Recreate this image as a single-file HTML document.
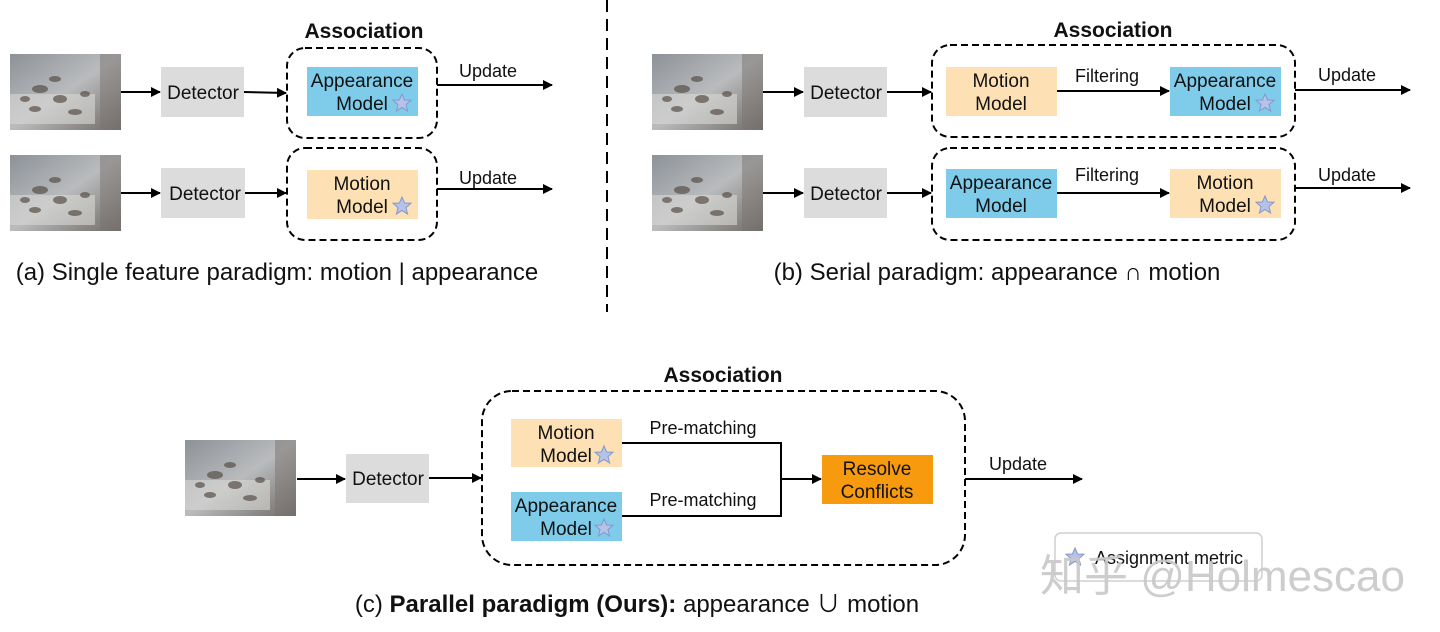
<!DOCTYPE html>
<html><head><meta charset="utf-8"><style>
html,body{margin:0;padding:0;background:#fff;width:1440px;height:632px;overflow:hidden}
text{font-family:"Liberation Sans","Noto Sans CJK SC",sans-serif;fill:#111}
</style></head><body>
<svg width="1440" height="632" viewBox="0 0 1440 632" xmlns="http://www.w3.org/2000/svg">
<defs>
<marker id="ah" markerWidth="10" markerHeight="10" refX="9" refY="5" orient="auto" markerUnits="userSpaceOnUse"><path d="M0,0 L10,5 L0,10 z" fill="#000"/></marker>
<linearGradient id="img" x1="0" y1="0" x2="1" y2="1"><stop offset="0" stop-color="#8d9298"/><stop offset="0.5" stop-color="#b9bbbd"/><stop offset="1" stop-color="#6f6a66"/></linearGradient>
<g id="star"><polygon points="0,-9 2.6,-3 9,-2.8 4,1.6 5.6,8 0,4.4 -5.6,8 -4,1.6 -9,-2.8 -2.6,-3" fill="#b6c3e8" stroke="#8497cf" stroke-width="1"/></g>
<g id="photo"><rect width="111" height="76" fill="url(#img)"/><rect x="0" y="40" width="85" height="30" fill="#d8d8d6" opacity="0.6"/><g fill="#5a5048" opacity="0.7"><ellipse cx="30" cy="35" rx="8" ry="4"/><ellipse cx="50" cy="45" rx="7" ry="4"/><ellipse cx="25" cy="55" rx="6" ry="3"/><ellipse cx="65" cy="58" rx="7" ry="3"/><ellipse cx="45" cy="25" rx="6" ry="3"/><ellipse cx="75" cy="40" rx="5" ry="3"/><ellipse cx="15" cy="45" rx="5" ry="3"/></g><rect x="90" y="0" width="21" height="76" fill="#7a7470" opacity="0.5"/></g>
</defs>
<g font-size="19" text-anchor="middle">
<!-- (a) -->
<text x="364" y="38" font-weight="bold" font-size="21">Association</text>
<use href="#photo" x="10" y="54"/><use href="#photo" x="10" y="155"/>
<line x1="121" y1="92" x2="160" y2="92" stroke="#000" stroke-width="2" marker-end="url(#ah)"/>
<line x1="121" y1="193" x2="160" y2="193" stroke="#000" stroke-width="2" marker-end="url(#ah)"/>
<rect x="161" y="67" width="83" height="50" fill="#dcdcdc"/><text x="203" y="99">Detector</text>
<rect x="161" y="168" width="84" height="50" fill="#dcdcdc"/><text x="205" y="200">Detector</text>
<line x1="244" y1="92" x2="286" y2="93" stroke="#000" stroke-width="2" marker-end="url(#ah)"/>
<line x1="245" y1="193" x2="286" y2="193" stroke="#000" stroke-width="2" marker-end="url(#ah)"/>
<rect x="287" y="48" width="150" height="90" rx="18" fill="none" stroke="#000" stroke-width="2" stroke-dasharray="7,4"/>
<rect x="287" y="148" width="150" height="92" rx="18" fill="none" stroke="#000" stroke-width="2" stroke-dasharray="7,4"/>
<rect x="307" y="67" width="111" height="49" fill="#7ecbea"/><text x="362" y="87">Appearance</text><text x="362" y="110">Model</text><use href="#star" x="402" y="103"/>
<rect x="307" y="170" width="111" height="49" fill="#fde0b4"/><text x="362" y="190">Motion</text><text x="362" y="213">Model</text><use href="#star" x="402" y="206"/>
<line x1="437" y1="85" x2="552" y2="85" stroke="#000" stroke-width="2" marker-end="url(#ah)"/><text x="488" y="77" font-size="18">Update</text>
<line x1="437" y1="189" x2="552" y2="189" stroke="#000" stroke-width="2" marker-end="url(#ah)"/><text x="488" y="184" font-size="18">Update</text>
<text x="277" y="280" font-size="24">(a) Single feature paradigm: motion | appearance</text>
<line x1="607" y1="0" x2="607" y2="312" stroke="#000" stroke-width="2" stroke-dasharray="12,7"/>
<!-- (b) -->
<text x="1113" y="37" font-weight="bold" font-size="21">Association</text>
<use href="#photo" x="652" y="54"/><use href="#photo" x="652" y="155"/>
<line x1="763" y1="92" x2="803" y2="92" stroke="#000" stroke-width="2" marker-end="url(#ah)"/>
<line x1="763" y1="193" x2="803" y2="193" stroke="#000" stroke-width="2" marker-end="url(#ah)"/>
<rect x="804" y="67" width="83" height="50" fill="#dcdcdc"/><text x="846" y="99">Detector</text>
<rect x="804" y="168" width="83" height="50" fill="#dcdcdc"/><text x="846" y="200">Detector</text>
<line x1="887" y1="92" x2="931" y2="92" stroke="#000" stroke-width="2" marker-end="url(#ah)"/>
<line x1="887" y1="193" x2="931" y2="193" stroke="#000" stroke-width="2" marker-end="url(#ah)"/>
<rect x="932" y="45" width="363" height="92" rx="18" fill="none" stroke="#000" stroke-width="2" stroke-dasharray="7,4"/>
<rect x="932" y="148" width="363" height="92" rx="18" fill="none" stroke="#000" stroke-width="2" stroke-dasharray="7,4"/>
<rect x="946" y="67" width="111" height="49" fill="#fde0b4"/><text x="1001" y="87">Motion</text><text x="1001" y="110">Model</text>
<rect x="1170" y="67" width="111" height="49" fill="#7ecbea"/><text x="1225" y="87">Appearance</text><text x="1225" y="110">Model</text><use href="#star" x="1265" y="103"/>
<line x1="1057" y1="91" x2="1169" y2="91" stroke="#000" stroke-width="2" marker-end="url(#ah)"/><text x="1107" y="82" font-size="18">Filtering</text>
<rect x="946" y="169" width="111" height="49" fill="#7ecbea"/><text x="1001" y="189">Appearance</text><text x="1001" y="212">Model</text>
<rect x="1170" y="169" width="111" height="49" fill="#fde0b4"/><text x="1225" y="189">Motion</text><text x="1225" y="212">Model</text><use href="#star" x="1265" y="205"/>
<line x1="1057" y1="193" x2="1169" y2="193" stroke="#000" stroke-width="2" marker-end="url(#ah)"/><text x="1107" y="181" font-size="18">Filtering</text>
<line x1="1295" y1="90" x2="1410" y2="90" stroke="#000" stroke-width="2" marker-end="url(#ah)"/><text x="1347" y="81" font-size="18">Update</text>
<line x1="1295" y1="188" x2="1410" y2="188" stroke="#000" stroke-width="2" marker-end="url(#ah)"/><text x="1347" y="181" font-size="18">Update</text>
<text x="997" y="280" font-size="24">(b) Serial paradigm: appearance ∩ motion</text>
<!-- (c) -->
<text x="723" y="382" font-weight="bold" font-size="21">Association</text>
<use href="#photo" x="185" y="440"/>
<line x1="297" y1="479" x2="345" y2="479" stroke="#000" stroke-width="2" marker-end="url(#ah)"/>
<rect x="346" y="454" width="83" height="49" fill="#dcdcdc"/><text x="388" y="485">Detector</text>
<line x1="429" y1="478" x2="481" y2="478" stroke="#000" stroke-width="2" marker-end="url(#ah)"/>
<rect x="482" y="391" width="483" height="174" rx="30" fill="none" stroke="#000" stroke-width="2" stroke-dasharray="7,4"/>
<rect x="511" y="419" width="111" height="48" fill="#fde0b4"/><text x="566" y="439">Motion</text><text x="566" y="462">Model</text><use href="#star" x="604" y="455"/>
<rect x="511" y="492" width="111" height="49" fill="#7ecbea"/><text x="566" y="512">Appearance</text><text x="566" y="535">Model</text><use href="#star" x="604" y="528"/>
<polyline points="622,443 781,443 781,516 622,516" fill="none" stroke="#000" stroke-width="2"/>
<line x1="781" y1="479" x2="821" y2="479" stroke="#000" stroke-width="2" marker-end="url(#ah)"/>
<text x="703" y="434" font-size="18">Pre-matching</text><text x="703" y="506" font-size="18">Pre-matching</text>
<rect x="822" y="455" width="111" height="49" fill="#f89a0e"/><text x="877" y="475">Resolve</text><text x="877" y="498">Conflicts</text>
<line x1="965" y1="479" x2="1082" y2="479" stroke="#000" stroke-width="2" marker-end="url(#ah)"/><text x="1018" y="470" font-size="18">Update</text>
<rect x="1055" y="533" width="207" height="48" rx="6" fill="#fff" stroke="#cfcfcf" stroke-width="1.5"/>
<use href="#star" x="1075" y="557"/><text x="1095" y="564" font-size="18" text-anchor="start">Assignment metric</text>
<text x="1040" y="591" font-size="44" text-anchor="start" style="fill:#c8c8c8;opacity:0.9">知乎 @Holmescao</text>
<text x="637" y="612" font-size="24">(c) <tspan font-weight="bold">Parallel paradigm (Ours):</tspan> appearance ∪ motion</text>
</g>
</svg>
</body></html>
